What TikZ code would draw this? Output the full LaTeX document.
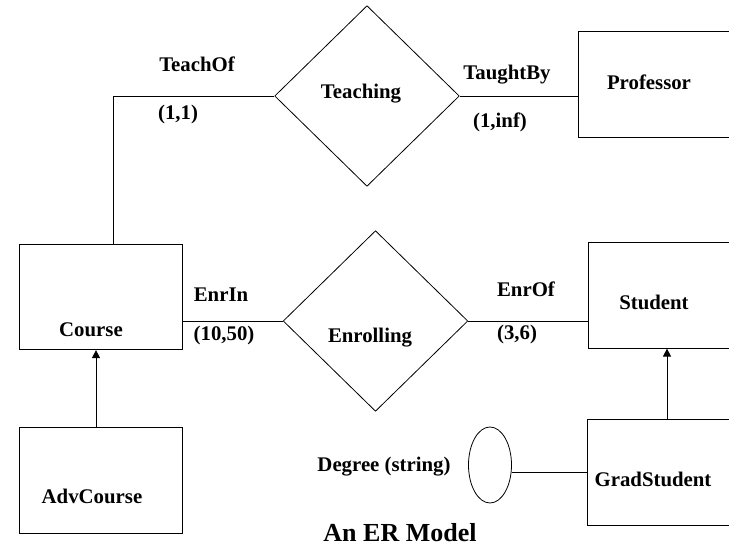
\documentclass[tikz,border=0pt]{standalone}
\usepackage{fontspec}
\setmainfont{Liberation Serif}
\usetikzlibrary{shapes.geometric,arrows.meta}
\begin{document}
\begin{tikzpicture}[x=0.75pt,y=-0.75pt,
  entity/.style={draw,line width=0.65pt,rectangle,inner sep=0pt,minimum width=122.25pt,minimum height=79pt},
  relation/.style={draw,line width=0.6pt,diamond,inner sep=0pt,minimum width=138.5pt,minimum height=135.5pt},
  attrib/.style={draw,line width=0.6pt,ellipse,inner sep=0pt,minimum width=32.25pt,minimum height=57pt},
  lbl/.style={anchor=base,inner sep=0pt,font=\fontsize{15.6}{18}\selectfont\bfseries},
  title/.style={anchor=base,inner sep=0pt,font=\fontsize{19.5}{23}\selectfont\bfseries},
  link/.style={line width=0.65pt},
  isa/.style={line width=0.65pt,-{Triangle[width=6pt,length=6pt]}}]
\useasboundingbox (0,0) rectangle (729,546);
\clip (0,0) rectangle (729,546);

% entities
\node[entity] (course)      at (100.5,297)   {};
\node[entity] (advcourse)   at (100.5,480.5) {};
\node[entity] (professor)   at (659.5,84.5)  {};
\node[entity] (student)     at (669.5,295.5) {};
\node[entity] (gradstudent) at (668.5,472.5) {};

% relationships
\node[relation] (teaching)  at (367,96)    {};
\node[relation] (enrolling) at (375.5,321) {};

% attribute
\node[attrib] (degree) at (490,465) {};

% helper coordinates for the connector positions
\coordinate (teachx) at (113,0);
\coordinate (advx)   at (96,0);
\coordinate (gradx)  at (667,0);

% connectors
\draw[link] (course.north -| teachx) |- (teaching.west);
\draw[link] (teaching.east) -- (teaching.east -| professor.west);
\draw[link] (enrolling.west) -- (enrolling.west -| course.east);
\draw[link] (enrolling.east) -- (enrolling.east -| student.west);
\draw[link] (degree.-18) -- (degree.-18 -| gradstudent.west);
\draw[isa] (advcourse.north -| advx) -- (course.south -| advx);
\draw[isa] (gradstudent.north -| gradx) -- (student.south -| gradx);

% texts
\node[lbl] (tTeachOf)   at (197,71)  {TeachOf};
\node[lbl] (tCard11)    at (178,119) {(1,1)};
\node[lbl] (tTeaching)  at (361,98)  {Teaching};
\node[lbl] (tTaughtBy)  at (507,79)  {TaughtBy};
\node[lbl] (tCard1inf)  at (500,127) {(1,inf)};
\node[lbl] (tProfessor) at (649,89)  {Professor};
\node[lbl] (tEnrIn)     at (221,301) {EnrIn};
\node[lbl] (tCard1050)  at (224,340) {(10,50)};
\node[lbl] (tCourse)    at (91,336)  {Course};
\node[lbl] (tAdvCourse) at (92,503)  {AdvCourse};
\node[lbl] (tEnrolling) at (370,342) {Enrolling};
\node[lbl] (tEnrOf)     at (526,296) {EnrOf};
\node[lbl] (tCard36)    at (517,339) {(3,6)};
\node[lbl] (tStudent)   at (654,309) {Student};
\node[lbl] (tGrad)      at (653,486) {GradStudent};
\node[lbl] (tDegree)    at (384,471) {Degree (string)};
\node[title] (tTitle)   at (400,541) {An ER Model};
\end{tikzpicture}
\end{document}
